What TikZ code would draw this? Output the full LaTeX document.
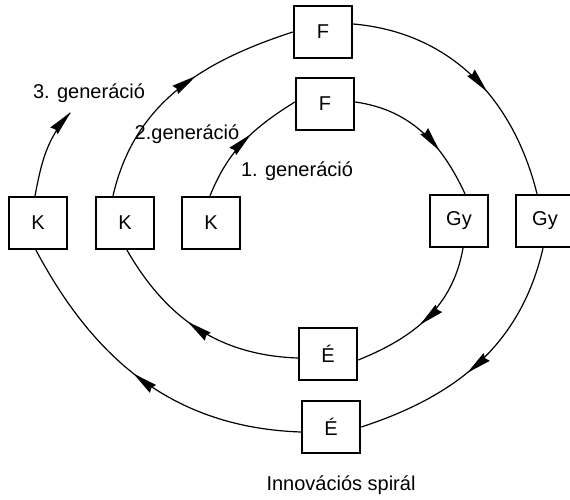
\documentclass[tikz,border=0pt]{standalone}
\usepackage{fontspec}
\setmainfont{Liberation Sans}
\usetikzlibrary{decorations.markings}
\tikzset{
  phase/.style={draw, line width=2.4pt, minimum width=58pt, minimum height=52pt,
    inner sep=0pt, font=\fontsize{20}{20}\selectfont},
  cycline/.style={line width=1.2pt},
  % filled wedge-shaped arrowhead placed along a path
  midarrow/.style={postaction={decorate}, decoration={markings,
    mark=at position #1 with {\fill (1pt,0pt) -- (-24pt,5pt) -- (-22pt,0pt) -- (-24pt,-5pt) -- cycle;}}},
  gen/.style={font=\fontsize{20}{20}\selectfont, inner sep=0pt}
}
\begin{document}
\begin{tikzpicture}[x=1pt,y=1pt]
\useasboundingbox (0,0) rectangle (570,499);

% phase boxes of the spiral
\node[phase] (F1)  at (323,467) {F};
\node[phase] (F2)  at (325,395) {F};
\node[phase] (Gy1) at (459,278) {Gy};
\node[phase] (Gy2) at (545,278) {Gy};
\node[phase] (K3)  at (38,276)  {K};
\node[phase] (K2)  at (125,276) {K};
\node[phase] (K1)  at (211,276) {K};
\node[phase] (E1)  at (328,145) {É};
\node[phase] (E2)  at (331,72)  {É};

% generation labels and caption
\node[gen] (g3) at (89,406)  {3. generáció};
\node[gen] (g2) at (187,365) {2.generáció};
\node[gen] (g1) at (297,328) {1. generáció};
\node[gen] (cap) at (341,14) {Innovációs spirál};

\coordinate (tip3) at (70,386);

% first turn
\draw[cycline, midarrow=0.57] ([xshift=-1]K1.north) to[out=68,in=212] ([yshift=2]F2.west);
\draw[cycline, midarrow=0.66] ([yshift=2]F2.east) to[out=-8,in=115] ([xshift=6]Gy1.north);
\draw[cycline, midarrow=0.55] ([xshift=4]Gy1.south) to[out=-100,in=22] ([yshift=-6]E1.east);
\draw[cycline, midarrow=0.55] ([yshift=-4]E1.west) to[out=178,in=-60] ([xshift=2]K2.south);

% second turn
\draw[cycline, midarrow=0.58] ([xshift=-12]K2.north) to[out=77,in=198] (F1.west);
\draw[cycline, midarrow=0.57] ([yshift=8]F1.east) to[out=-5,in=104] ([xshift=-8]Gy2.north);
\draw[cycline, midarrow=0.55] ([xshift=-2]Gy2.south) to[out=-103,in=18] (E2.east);
\draw[cycline, midarrow=0.53] ([yshift=-5]E2.west) to[out=178,in=-62] ([xshift=-2]K3.south);

% start of the third turn
\draw[cycline, midarrow=1] ([xshift=-3]K3.north) to[out=79,in=228] (tip3);
\end{tikzpicture}
\end{document}
